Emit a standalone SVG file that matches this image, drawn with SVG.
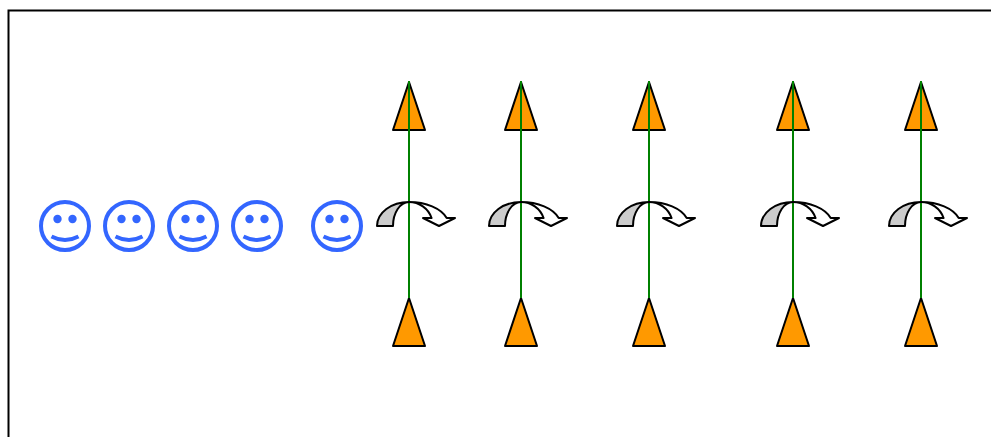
<svg xmlns="http://www.w3.org/2000/svg" width="991" height="437" viewBox="0 0 991 437">
<style>
.frame{fill:none;stroke:#000;stroke-width:2}
.link{fill:none;stroke:#008000;stroke-width:2}
.tri{fill:#ff9900;stroke:#000;stroke-width:2;stroke-linejoin:round}
.back{fill:#cccccc;stroke:#000;stroke-width:2;stroke-linejoin:round}
.front{fill:#fff;stroke:#000;stroke-width:2;stroke-linejoin:round}
.face{fill:#fff;stroke:#3366ff;stroke-width:4}
.eye{fill:#3366ff}
.mouth{fill:none;stroke:#3366ff;stroke-width:4}
</style>
<defs>
<g id="smile">
<circle class="face" cx="0" cy="0" r="24"/>
<circle class="eye" cx="-7.500" cy="-7" r="4.200"/>
<circle class="eye" cx="7.500" cy="-7" r="4.200"/>
<path class="mouth" d="M-13.500 10.500Q0 17.500 13.500 10.500"/>
</g>
<g id="pair">
<path class="front" d="M0 0A40 24 0 0 1 37.700 16H46L30 24L14 16H22.600A24 24 0 0 0 0 0Z"/>
<path class="back" d="M-32 24A32 24 0 0 1 0 0A16 24 0 0 0 -16 24Z"/>
</g>
</defs>
<path class="frame" d="M8.500 437V10.500H991"/>
<g id="faces">
<use id="f1" href="#smile" x="65" y="226"/>
<use id="f2" href="#smile" x="129" y="226"/>
<use id="f3" href="#smile" x="193" y="226"/>
<use id="f4" href="#smile" x="257" y="226"/>
<use id="f5" href="#smile" x="337" y="226"/>
</g>
<g id="triangles">
<path id="t1" class="tri" d="M409 82L425 130H393Z"/><path id="b1" class="tri" d="M409 298L425 346H393Z"/>
<path id="t2" class="tri" d="M521 82L537 130H505Z"/><path id="b2" class="tri" d="M521 298L537 346H505Z"/>
<path id="t3" class="tri" d="M649 82L665 130H633Z"/><path id="b3" class="tri" d="M649 298L665 346H633Z"/>
<path id="t4" class="tri" d="M793 82L809 130H777Z"/><path id="b4" class="tri" d="M793 298L809 346H777Z"/>
<path id="t5" class="tri" d="M921 82L937 130H905Z"/><path id="b5" class="tri" d="M921 298L937 346H905Z"/>
</g>
<g id="connectors">
<path class="link" d="M409 81V298"/>
<path class="link" d="M521 81V298"/>
<path class="link" d="M649 81V298"/>
<path class="link" d="M793 81V298"/>
<path class="link" d="M921 81V298"/>
</g>
<g id="curved">
<use id="c1" href="#pair" x="409" y="202"/>
<use id="c2" href="#pair" x="521" y="202"/>
<use id="c3" href="#pair" x="649" y="202"/>
<use id="c4" href="#pair" x="793" y="202"/>
<use id="c5" href="#pair" x="921" y="202"/>
</g>
</svg>
